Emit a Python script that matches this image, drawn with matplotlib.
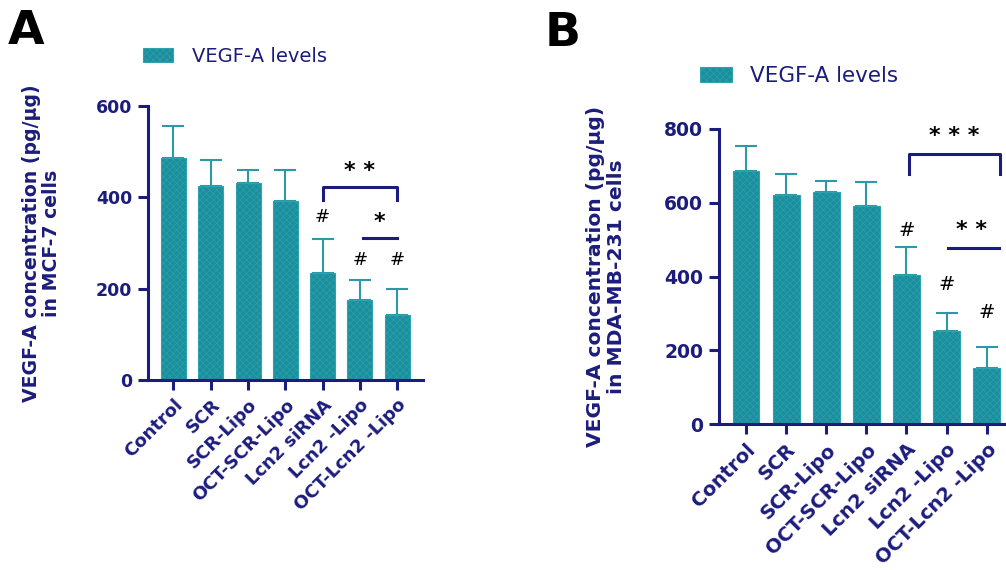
import matplotlib.pyplot as plt
import numpy as np
from matplotlib.transforms import ScaledTranslation

# %% data
groups = ["Control", "SCR", "SCR-Lipo", "OCT-SCR-Lipo", "Lcn2 siRNA", "Lcn2 -Lipo", "OCT-Lcn2 -Lipo"]

mcf7_mean = [487, 425, 431, 393, 234, 175, 142]
mcf7_err = [70, 56, 29, 66, 75, 45, 58]

mda_mean = [686, 622, 628, 591, 403, 253, 151]
mda_err = [69, 56, 30, 66, 76, 47, 57]

# "#" markers (group index, height)
mcf7_hash = [(4, 357), (5, 262), (6, 262)]
mda_hash = [(4, 524), (5, 378), (6, 302)]

NAVY = "#1c1c7c"
TEAL = "#1b8f9d"
plt.rcParams["hatch.linewidth"] = 0.4
plt.rcParams["font.family"] = "DejaVu Sans"

fig = plt.figure(figsize=(10.06, 5.70), dpi=100)


def px(x0, y0, x1, y1):
    # pixel box -> figure fraction [left, bottom, width, height]
    return [x0 / 1006, 1 - y1 / 570, (x1 - x0) / 1006, (y1 - y0) / 570]


def panel(ax, mean, err, ymax, xlim, ylabel, fs, labfs, labx):
    x = np.arange(len(groups))
    ax.bar(x, mean, width=0.67, color=TEAL, edgecolor="#2ea2ae", linewidth=0.8,
           hatch="xxxxx", label="VEGF-A levels", zorder=2)
    ax.errorbar(x, mean, yerr=[np.zeros(len(err)), err], fmt="none",
                ecolor="#2a9aa6", elinewidth=1.5, capsize=8, capthick=1.5, zorder=1)
    ax.set_xlim(*xlim)
    ax.set_ylim(0, ymax)
    ax.set_yticks(np.arange(0, ymax + 1, 200))
    ax.set_xticks(x)
    ax.set_xticklabels(groups, rotation=45, ha="right", rotation_mode="anchor",
                       fontsize=fs, fontweight="bold", color=NAVY)
    shift = ScaledTranslation(4 / 72, -3 / 72, fig.dpi_scale_trans)
    for lab in ax.get_xticklabels():
        lab.set_transform(lab.get_transform() + shift)
    for lab in ax.get_yticklabels():
        lab.set_fontsize(fs - 0.5)
        lab.set_fontweight("bold")
        lab.set_color(NAVY)
    for s in ["top", "right"]:
        ax.spines[s].set_visible(False)
    for s in ["left", "bottom"]:
        ax.spines[s].set_color(NAVY)
        ax.spines[s].set_linewidth(2.2)
    ax.tick_params(color=NAVY, width=2.2, length=7.5, pad=4)
    ax.set_ylabel(ylabel, fontsize=labfs, fontweight="bold", color=NAVY,
                  linespacing=1.1)
    ax.yaxis.set_label_coords(labx, 0.5)


def bracket(ax, x0, x1, y, drop, txt, ty, tx):
    if drop:
        ax.plot([x0, x0, x1, x1], [y - drop, y, y, y - drop], color=NAVY, lw=2.2,
                clip_on=False)
    else:
        ax.plot([x0, x1], [y, y], color=NAVY, lw=2.2, clip_on=False)
    ax.text(tx, ty, txt, ha="center", va="center", fontsize=16, fontweight="bold",
            color="black")


# %% panel A
axA = fig.add_axes(px(148, 106, 423, 380))
panel(axA, mcf7_mean, mcf7_err, 600, (-0.68, 6.69),
      "VEGF-A concentration (pg/\u03bcg)\nin MCF-7 cells", 13, 13.6, -0.315)
bracket(axA, 4, 6, 423, 29, "* *", 458, 5.0)
bracket(axA, 5.08, 6.0, 312, 0, "*", 346, 5.53)
for i, h in mcf7_hash:
    axA.text(i, h, "#", ha="center", va="center", fontsize=13, color="black")
axA.legend(loc="center left", bbox_to_anchor=(143 / 1006, 1 - 56 / 570),
           bbox_transform=fig.transFigure, frameon=False, fontsize=14,
           labelcolor=NAVY, handlelength=1.55, handleheight=0.72,
           handletextpad=0.95, borderpad=0, borderaxespad=0)

# %% panel B
axB = fig.add_axes(px(719, 129, 1006, 424))
panel(axB, mda_mean, mda_err, 800, (-0.673, 6.48),
      "VEGF-A concentration (pg/\u03bcg)\nin MDA-MB-231 cells", 14, 14.6, -0.325)
bracket(axB, 4.05, 6.33, 733, 56, "* * *", 780, 5.2)
bracket(axB, 5.04, 6.3, 477, 0, "* *", 527, 5.63)
for i, h in mda_hash:
    axB.text(i, h, "#", ha="center", va="center", fontsize=14, color="black")
axB.legend(loc="center left", bbox_to_anchor=(700 / 1006, 1 - 76 / 570),
           bbox_transform=fig.transFigure, frameon=False, fontsize=15.5,
           labelcolor=NAVY, handlelength=1.5, handleheight=0.66,
           handletextpad=0.82, borderpad=0, borderaxespad=0)

fig.text(26 / 1006, 1 - 31 / 570, "A", fontsize=34, fontweight="bold",
         ha="center", va="center")
fig.text(563 / 1006, 1 - 33 / 570, "B", fontsize=34, fontweight="bold",
         ha="center", va="center")

fig.savefig("out.png", dpi=100)
